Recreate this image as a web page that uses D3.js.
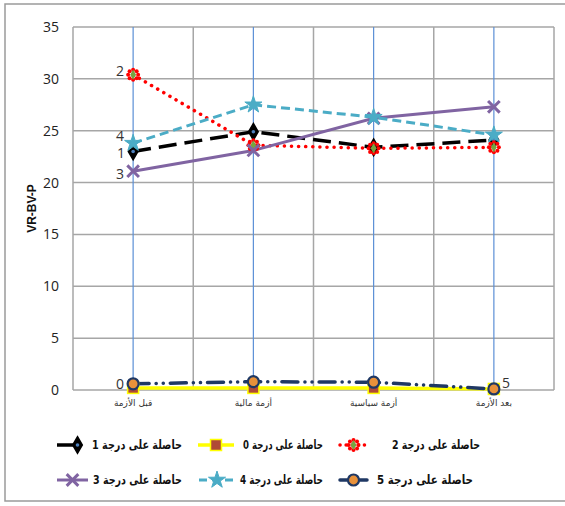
<!DOCTYPE html>
<html>
<head>
<meta charset="utf-8">
<script src="https://cdn.jsdelivr.net/npm/d3@7"></script>
<style>
  html, body { margin: 0; padding: 0; background: #fff; }
  svg { display: block; }
</style>
</head>
<body>
<svg id="chart" width="565" height="506"></svg>
<script>
// Categories (periods) along the x axis
const categories = ["قبل الأزمة", "أزمة مالية", "أزمة سياسية", "بعد الأزمة"];
const yTicks = [0, 5, 10, 15, 20, 25, 30, 35];

// Series values, one array per grade
const grade0 = [0.2, 0.2, 0.2, 0.1];
const grade1 = [23.0, 24.9, 23.4, 24.1];
const grade2 = [30.4, 23.6, 23.3, 23.4];
const grade3 = [21.1, 23.1, 26.2, 27.3];
const grade4 = [23.8, 27.5, 26.3, 24.6];
const grade5 = [0.6, 0.8, 0.75, 0.1];

const seriesNames = ["حاصلة على درجة 0", "حاصلة على درجة 1", "حاصلة على درجة 2",
                     "حاصلة على درجة 3", "حاصلة على درجة 4", "حاصلة على درجة 5"];

const series = [
  { key: "1", name: seriesNames[1], values: grade1, color: "#000000", width: 3.5, dash: "18,8", cap: "butt", marker: "diamond" },
  { key: "0", name: seriesNames[0], values: grade0, color: "#ffff00", width: 3.5, dash: null, cap: "butt", marker: "square" },
  { key: "2", name: seriesNames[2], values: grade2, color: "#ff0000", width: 3.5, dash: "0.1,7", cap: "round", marker: "burst" },
  { key: "3", name: seriesNames[3], values: grade3, color: "#8064a2", width: 3, dash: null, cap: "butt", marker: "cross" },
  { key: "4", name: seriesNames[4], values: grade4, color: "#4bacc6", width: 3, dash: "9,5", cap: "butt", marker: "star" },
  { key: "5", name: seriesNames[5], values: grade5, color: "#1f3864", width: 3.5, dash: "16,7,0.1,7,0.1,7", cap: "round", marker: "circle" }
];

const svg = d3.select("#chart");
const W = 565, H = 506;
const m = { left: 73, right: 11, top: 27, bottom: 116 };
const pw = W - m.left - m.right, ph = H - m.top - m.bottom;

// Outer chart frame
svg.append("rect").attr("x", 5).attr("y", 4).attr("width", 568).attr("height", 497)
  .attr("fill", "#fff").attr("stroke", "#9a9a9a").attr("stroke-width", 1.5);

const g = svg.append("g").attr("transform", `translate(${m.left},${m.top})`);

const x = d3.scaleBand().domain(categories).range([0, pw]).padding(0);
const y = d3.scaleLinear().domain([0, 35]).range([ph, 0]);
const cx = c => x(c) + x.bandwidth() / 2;

// Horizontal gridlines
g.append("g").selectAll("line").data(yTicks).join("line")
  .attr("x1", 0).attr("x2", pw).attr("y1", d => y(d)).attr("y2", d => y(d))
  .attr("stroke", "#a6a6a6").attr("stroke-width", 1.5);

// Vertical gridlines at category boundaries
const bounds = categories.map(c => x(c)).concat([pw]);
g.append("g").selectAll("line").data(bounds).join("line")
  .attr("x1", d => d).attr("x2", d => d).attr("y1", 0).attr("y2", ph)
  .attr("stroke", "#a6a6a6").attr("stroke-width", 1.5);

// Blue lines through each category
g.append("g").selectAll("line").data(categories).join("line")
  .attr("x1", d => cx(d)).attr("x2", d => cx(d)).attr("y1", 0).attr("y2", ph)
  .attr("stroke", "#5b8fd6").attr("stroke-width", 1.2);

// Y axis labels
const yAxis = d3.axisLeft(y).tickValues(yTicks).tickSize(0).tickPadding(14);
g.append("g").call(yAxis).call(a => a.select(".domain").remove())
  .selectAll("text").attr("font-family", "Open Sans, sans-serif").attr("font-size", 14)
  .attr("fill", "#222");

// X axis labels
const xAxis = d3.axisBottom(x).tickSize(0).tickPadding(10);
g.append("g").attr("transform", `translate(0,${ph})`).call(xAxis)
  .call(a => a.select(".domain").remove())
  .selectAll("text").attr("font-family", "DejaVu Sans, sans-serif").attr("font-size", 9)
  .attr("fill", "#333");

// Y axis title
svg.append("text").attr("transform", `translate(36,${m.top + ph / 2}) rotate(-90)`)
  .attr("text-anchor", "middle").attr("font-family", "Liberation Sans, Arial, sans-serif")
  .attr("font-weight", "bold").attr("font-size", 12).attr("fill", "#111").text("VR-BV-P");

// Marker drawing
function drawMarker(sel, type, color) {
  if (type === "diamond") {
    sel.append("path").attr("d", d3.symbol(d3.symbolDiamond, 80)()).attr("fill", "#000")
      .attr("stroke", "#000").attr("stroke-width", 1.5);
    sel.append("circle").attr("r", 1.8).attr("fill", "#4f81bd");
  } else if (type === "square") {
    sel.append("rect").attr("x", -5.5).attr("y", -5.5).attr("width", 11).attr("height", 11)
      .attr("fill", "#b04a36").attr("stroke", "#ffff00").attr("stroke-width", 1.5);
  } else if (type === "burst") {
    const pts = d3.range(8).map(i => [Math.cos(i * Math.PI / 4) * 5, Math.sin(i * Math.PI / 4) * 5]);
    sel.selectAll("circle.b").data(pts).join("circle").attr("class", "b")
      .attr("cx", d => d[0]).attr("cy", d => d[1]).attr("r", 2).attr("fill", "#ff0000");
    sel.append("path").attr("d", d3.symbol(d3.symbolDiamond, 30)()).attr("fill", "#77a340");
  } else if (type === "cross") {
    sel.append("path").attr("d", d3.symbol(d3.symbolX, 90)()).attr("fill", "none")
      .attr("stroke", color).attr("stroke-width", 3);
  } else if (type === "star") {
    sel.append("path").attr("d", d3.symbol(d3.symbolStar, 90)()).attr("fill", color)
      .attr("stroke", color).attr("stroke-width", 1);
  } else if (type === "circle") {
    sel.append("circle").attr("r", 5.5).attr("fill", "#e8913a")
      .attr("stroke", "#1f3864").attr("stroke-width", 2.2);
  }
}

const line = d3.line().x((d, i) => cx(categories[i])).y(d => y(d));

// Lines
series.forEach(s => {
  g.append("path").datum(s.values).attr("d", line).attr("fill", "none")
    .attr("stroke", s.color).attr("stroke-width", s.width)
    .attr("stroke-dasharray", s.dash).attr("stroke-linecap", s.cap);
});

// Markers
series.forEach(s => {
  s.values.forEach((v, i) => {
    const mk = g.append("g").attr("transform", `translate(${cx(categories[i])},${y(v)})`);
    drawMarker(mk, s.marker, s.color);
  });
});

// Series number labels
const byKey = k => series.find(s => s.key === k);
const tags = [
  { key: "2", i: 0, dx: -9, dy: -4 },
  { key: "4", i: 0, dx: -9, dy: -7 },
  { key: "1", i: 0, dx: -8, dy: 2 },
  { key: "3", i: 0, dx: -9, dy: 3 },
  { key: "5", i: 0, dx: -9, dy: 0, label: "0" },
  { key: "5", i: 3, dx: 8, dy: -6, anchor: "start" }
];
tags.forEach(t => {
  const s = byKey(t.key);
  g.append("text").attr("x", cx(categories[t.i]) + t.dx).attr("y", y(s.values[t.i]) + t.dy)
    .attr("dy", "0.35em").attr("text-anchor", t.anchor || "end")
    .attr("font-family", "Open Sans, sans-serif").attr("font-size", 14).attr("fill", "#333")
    .text(t.label || t.key);
});

// Legend
const legendItems = [
  { s: byKey("1"), sx: 57, sw: 25, tx: 182, tw: 90, ty: 445 },
  { s: byKey("0"), sx: 198, sw: 36, tx: 323, tw: 80, ty: 445 },
  { s: byKey("2"), sx: 340, sw: 27, tx: 480, tw: 88, ty: 445 },
  { s: byKey("3"), sx: 57, sw: 31, tx: 182, tw: 89, ty: 480 },
  { s: byKey("4"), sx: 199, sw: 36, tx: 323, tw: 83, ty: 480 },
  { s: byKey("5"), sx: 340, sw: 27, tx: 473, tw: 96, ty: 480 }
];
const lg = svg.append("g");
legendItems.forEach(it => {
  const s = it.s;
  lg.append("line").attr("x1", it.sx).attr("x2", it.sx + it.sw).attr("y1", it.ty).attr("y2", it.ty)
    .attr("stroke", s.color).attr("stroke-width", s.width)
    .attr("stroke-dasharray", s.dash ? (s.marker === "burst" ? "0.1,6" : s.marker === "star" ? "8,5" : null) : null)
    .attr("stroke-linecap", s.cap);
  const mk = lg.append("g").attr("transform", `translate(${it.sx + it.sw / 2 + (s.marker === "diamond" ? 8 : 0)},${it.ty})`);
  drawMarker(mk, s.marker, s.color);
  lg.append("text").attr("x", it.tx - it.tw).attr("y", it.ty).attr("dy", "0.35em")
    .attr("text-anchor", "start").attr("font-family", "DejaVu Sans, sans-serif")
    .attr("font-size", 12.5).attr("font-weight", "bold").attr("fill", "#111")
    .attr("textLength", it.tw).attr("lengthAdjust", "spacingAndGlyphs").text(s.name);
});
</script>
</body>
</html>
